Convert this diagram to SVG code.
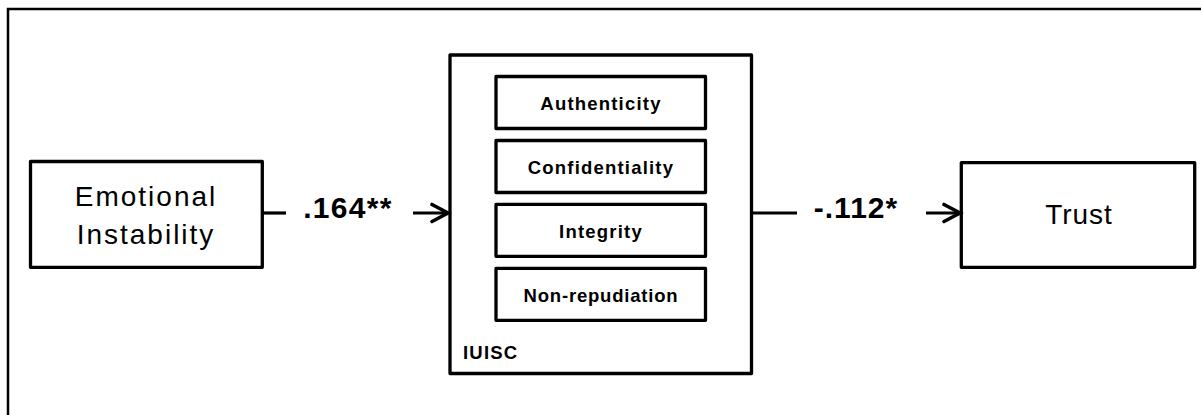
<svg xmlns="http://www.w3.org/2000/svg" width="1201" height="415" viewBox="0 0 1201 415">
  <style>
    .box { fill: #ffffff; stroke: #000000; stroke-width: 3.3; stroke-linejoin: round; }
    .frame { fill: none; stroke: #000000; stroke-width: 2.5; }
    .wire { fill: none; stroke: #000000; stroke-width: 3.2; }
    .big { font-family: "Liberation Sans", Arial, sans-serif; font-size: 28px; letter-spacing: 2px; fill: #000000; text-anchor: middle; }
    .coef { font-family: "Liberation Sans", Arial, sans-serif; font-size: 30px; font-weight: bold; fill: #000000; text-anchor: middle; }
    .dim { font-family: "Liberation Sans", Arial, sans-serif; font-size: 18.5px; font-weight: bold; letter-spacing: 1.2px; fill: #000000; text-anchor: middle; }
  </style>
  <defs>
    <marker id="chevron" markerUnits="userSpaceOnUse" markerWidth="24" markerHeight="24" refX="18" refY="12" orient="auto">
      <path d="M2 3.5 L18 12 L2 20.5" fill="none" stroke="#000000" stroke-width="3.6" stroke-linejoin="miter" stroke-linecap="round"/>
    </marker>
  </defs>

  <rect width="1201" height="415" fill="#ffffff"/>
  <!-- page frame (only top and left edges fall inside the canvas) -->
  <path class="frame" d="M8 420 V9 H1210"/>

  <g id="emotional-instability">
    <rect class="box" x="30.5" y="161.5" width="231.8" height="105.8"/>
    <text class="big" x="146" y="206">Emotional</text>
    <text class="big" x="146" y="244">Instability</text>
  </g>

  <g id="iuisc">
    <rect class="box" x="450" y="55" width="301.5" height="318.5"/>
    <text class="dim" x="463" y="359" style="text-anchor:start">IUISC</text>
    <g id="authenticity">
      <rect class="box" x="496" y="76.5" width="209.5" height="52"/>
      <text class="dim" x="601" y="110">Authenticity</text>
    </g>
    <g id="confidentiality">
      <rect class="box" x="496" y="140.5" width="209.5" height="52"/>
      <text class="dim" x="601" y="174">Confidentiality</text>
    </g>
    <g id="integrity">
      <rect class="box" x="496" y="204.3" width="209.5" height="52"/>
      <text class="dim" x="601" y="238">Integrity</text>
    </g>
    <g id="non-repudiation">
      <rect class="box" x="496" y="268.3" width="209.5" height="52"/>
      <text class="dim" x="601" y="302" style="letter-spacing:0.8px">Non-repudiation</text>
    </g>
  </g>

  <g id="trust">
    <rect class="box" x="961.3" y="162.7" width="233.4" height="104.6"/>
    <text class="big" x="1079" y="224" style="letter-spacing:1px">Trust</text>
  </g>

  <g id="connectors">
    <path class="wire" d="M262 213 H286"/>
    <text class="coef" x="348" y="218" style="letter-spacing:1.3px">.164**</text>
    <path class="wire" d="M413 213 H448" marker-end="url(#chevron)"/>

    <path class="wire" d="M751.5 213 H797"/>
    <text class="coef" x="856" y="218" style="letter-spacing:1px">-.112*</text>
    <path class="wire" d="M926 213 H960" marker-end="url(#chevron)"/>
  </g>
</svg>
